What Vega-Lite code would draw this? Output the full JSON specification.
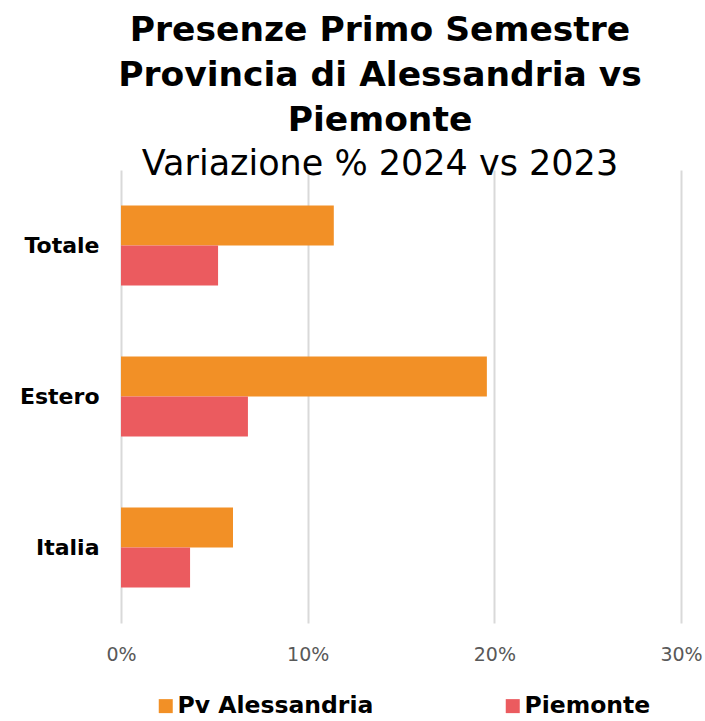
{
  "$schema": "https://vega.github.io/schema/vega-lite/v6.json",
  "width": 560,
  "height": 453,
  "autosize": {"type": "none"},
  "padding": {"left": 121, "top": 170, "right": 24, "bottom": 98},
  "background": "white",
  "title": {
    "text": ["Presenze Primo Semestre", "Provincia di Alessandria vs", "Piemonte"],
    "subtitle": "Variazione % 2024 vs 2023",
    "anchor": "middle",
    "dx": -21,
    "font": "DejaVu Sans",
    "fontSize": 34.5,
    "fontWeight": "bold",
    "lineHeight": 45,
    "color": "#000000",
    "subtitleFont": "DejaVu Sans",
    "subtitleFontSize": 35,
    "subtitleFontWeight": "normal",
    "subtitleColor": "#000000",
    "subtitlePadding": 9,
    "offset": -13
  },
  "data": {
    "values": [
      {"area": "Totale", "series": "Pv Alessandria", "value": 0.114},
      {"area": "Totale", "series": "Piemonte", "value": 0.052},
      {"area": "Estero", "series": "Pv Alessandria", "value": 0.196},
      {"area": "Estero", "series": "Piemonte", "value": 0.068},
      {"area": "Italia", "series": "Pv Alessandria", "value": 0.060},
      {"area": "Italia", "series": "Piemonte", "value": 0.037}
    ]
  },
  "mark": {"type": "bar"},
  "encoding": {
    "y": {
      "field": "area",
      "type": "nominal",
      "sort": ["Totale", "Estero", "Italia"],
      "scale": {"paddingInner": 0.47, "paddingOuter": 0.235},
      "axis": {
        "title": null,
        "domain": false,
        "ticks": false,
        "labelFont": "DejaVu Sans",
        "labelFontSize": 22,
        "labelFontWeight": "bold",
        "labelColor": "#000000",
        "labelPadding": 22
      }
    },
    "yOffset": {
      "field": "series",
      "type": "nominal",
      "sort": ["Pv Alessandria", "Piemonte"],
      "scale": {"paddingInner": 0, "paddingOuter": 0}
    },
    "x": {
      "field": "value",
      "type": "quantitative",
      "scale": {"domain": [0, 0.3], "nice": false},
      "axis": {
        "title": null,
        "values": [0, 0.1, 0.2, 0.3],
        "format": ".0%",
        "domain": false,
        "ticks": false,
        "grid": true,
        "gridColor": "#D9D9D9",
        "gridWidth": 2,
        "labelFlush": false,
        "labelFont": "DejaVu Sans",
        "labelFontSize": 19,
        "labelColor": "#595959",
        "labelPadding": 22
      }
    },
    "color": {
      "field": "series",
      "type": "nominal",
      "scale": {"domain": ["Pv Alessandria", "Piemonte"], "range": ["#F29026", "#EB5B5F"]},
      "legend": {
        "title": null,
        "orient": "none",
        "direction": "horizontal",
        "legendX": 33,
        "legendY": 524,
        "symbolType": "square",
        "symbolSize": 196,
        "symbolStrokeWidth": 0,
        "labelFont": "DejaVu Sans",
        "labelFontSize": 23.5,
        "labelFontWeight": "bold",
        "labelColor": "#000000",
        "labelOffset": 0,
        "columnPadding": 127,
        "labelLimit": 300
      }
    }
  },
  "config": {"view": {"stroke": null}}
}
